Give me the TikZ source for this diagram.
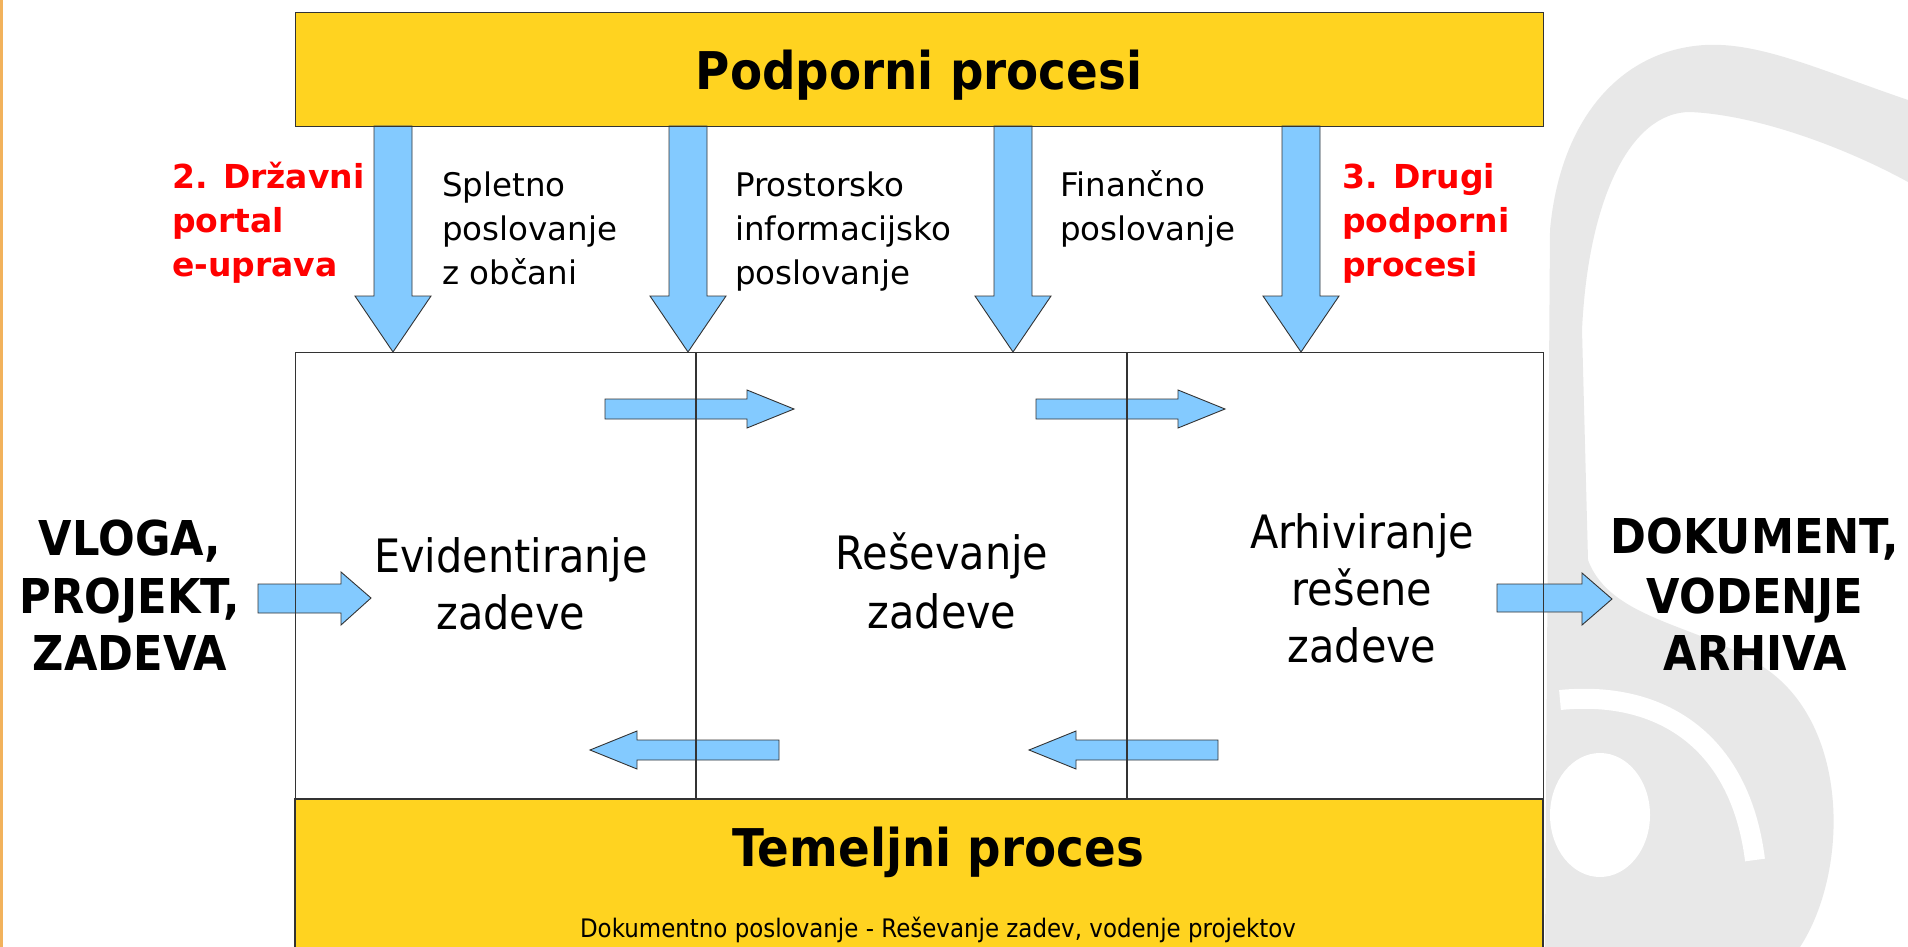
\documentclass[tikz,border=0pt]{standalone}
\usepackage{fontspec}
\setmainfont{DejaVu Sans}
\newfontfamily\nar{DejaVu Sans}[FakeStretch=0.9]
\definecolor{gold}{HTML}{FFD320}
\definecolor{sky}{HTML}{83CAFF}
\definecolor{edge}{HTML}{333333}
\definecolor{swirl}{HTML}{E8E8E8}
\definecolor{strip}{HTML}{F2B25C}
\tikzset{
  boxfill/.style={fill=#1, draw=none},
  boxline/.style={draw=edge, line width=1.3pt},
  arr/.style={fill=sky, draw=edge, line width=0.9pt, line join=miter},
  lbl/.style={anchor=base west, inner sep=0pt, font=\fontsize{32.5}{44}\selectfont},
  redlbl/.style={anchor=base west, inner sep=0pt, text=red, font=\bfseries\fontsize{33}{44}\selectfont},
  big/.style={anchor=base, inner sep=0pt, font=\nar\bfseries\fontsize{48}{58}\selectfont},
  mid/.style={anchor=base, inner sep=0pt, font=\nar\fontsize{46}{57}\selectfont},
  head/.style={anchor=base, inner sep=0pt, font=\nar\bfseries\fontsize{52}{60}\selectfont},
}
\newcommand\dnarrow[1]{%
  \draw[arr] (#1-19,126) -- (#1+19,126) -- (#1+19,296) -- (#1+38,296) -- (#1,352)
    -- (#1-38,296) -- (#1-19,296) -- cycle;}
\newcommand\rtarrow[2]{% tail x, center y
  \draw[arr] (#1,#2-10) -- (#1+142,#2-10) -- (#1+142,#2-19) -- (#1+189,#2)
    -- (#1+142,#2+19) -- (#1+142,#2+10) -- (#1,#2+10) -- cycle;}
\newcommand\lfarrow[2]{% tip x, center y
  \draw[arr] (#1,#2) -- (#1+47,#2-19) -- (#1+47,#2-10) -- (#1+189,#2-10)
    -- (#1+189,#2+10) -- (#1+47,#2+10) -- (#1+47,#2+19) -- cycle;}
\begin{document}
\begin{tikzpicture}[x=1pt,y=-1pt]
\useasboundingbox (0,0) rectangle (1908,947);
\fill[white] (0,0) rectangle (1908,947);
% left strip
\fill[strip] (0,0) rectangle (3,947);
% background swirl
\fill[swirl] (1908,100) .. controls (1820,70) and (1760,42) .. (1705,45)
  .. controls (1620,50) and (1560,120) .. (1550,230) -- (1545,947) -- (1800,947)
  .. controls (1850,870) and (1850,720) .. (1760,665)
  .. controls (1700,625) and (1610,620) .. (1588,560)
  -- (1582,330) .. controls (1588,200) and (1630,112) .. (1690,112)
  .. controls (1760,115) and (1850,150) .. (1908,182) -- cycle;
\fill[white] (1600,815) ellipse [x radius=50, y radius=62];
\draw[white, line width=20pt] (1560,700) .. controls (1660,690) and (1740,740) .. (1755,860);
% boxes
\fill[gold] (295,12) rectangle (1543,126);
\fill[white] (295,352) rectangle (1543,799);
\fill[gold] (295,799) rectangle (1543,960);
% arrows
\dnarrow{393}
\dnarrow{688}
\dnarrow{1013}
\dnarrow{1301}
\rtarrow{605}{409}
\rtarrow{1036}{409}
\lfarrow{590}{750}
\lfarrow{1029}{750}
\draw[arr] (258,584) -- (341,584) -- (341,572) -- (371,598) -- (341,625) -- (341,613) -- (258,613) -- cycle;
\draw[arr] (1497,584) -- (1582,584) -- (1582,573) -- (1612,599) -- (1582,625) -- (1582,612) -- (1497,612) -- cycle;
% outlines
\node[boxline, inner sep=0pt, minimum width=1248pt, minimum height=114pt, anchor=north west] (top) at (295,12) {};
\node[boxline, inner sep=0pt, minimum width=1248pt, minimum height=447pt, anchor=north west] (main) at (295,352) {};
\draw[boxline] (295,960) -- (295,799) -- (1543,799) -- (1543,960);
\draw[boxline] (696,352) -- (696,799);
\draw[boxline] (1127,352) -- (1127,799);
% titles
\node[head] (tp) at (919,90) {Podporni procesi};
\node[head] (tm) at (938,866) {Temeljni proces};
\node[anchor=base, inner sep=0pt, font=\nar\fontsize{25.5}{30}\selectfont] (sub) at (938,937) {Dokumentno poslovanje - Reševanje zadev, vodenje projektov};
% labels
\node[redlbl] (r1a) at (172,188) {2. Državni};
\node[redlbl] (r1b) at (172,232) {portal};
\node[redlbl] (r1c) at (172,276) {e-uprava};
\node[lbl] (s1) at (442,196) {Spletno};
\node[lbl] (s2) at (442,240) {poslovanje};
\node[lbl] (s3) at (442,284) {z občani};
\node[lbl] (p1) at (735,196) {Prostorsko};
\node[lbl] (p2) at (735,240) {informacijsko};
\node[lbl] (p3) at (735,284) {poslovanje};
\node[lbl] (f1) at (1060,196) {Finančno};
\node[lbl] (f2) at (1060,240) {poslovanje};
\node[redlbl] (r2a) at (1342,188) {3. Drugi};
\node[redlbl] (r2b) at (1342,232) {podporni};
\node[redlbl] (r2c) at (1342,276) {procesi};
% middle
\node[mid] (e1) at (511,572) {Evidentiranje};
\node[mid] (e2) at (511,629) {zadeve};
\node[mid] (m1) at (942,569) {Reševanje};
\node[mid] (m2) at (942,628) {zadeve};
\node[mid] (a1) at (1362,548) {Arhiviranje};
\node[mid] (a2) at (1362,605) {rešene};
\node[mid] (a3) at (1362,662) {zadeve};
% sides
\node[big] (v1) at (130,555) {VLOGA,};
\node[big] (v2) at (130,613) {PROJEKT,};
\node[big] (v3) at (130,670) {ZADEVA};
\node[big] (d1) at (1755,553) {DOKUMENT,};
\node[big] (d2) at (1755,613) {VODENJE};
\node[big] (d3) at (1755,670) {ARHIVA};
\end{tikzpicture}
\end{document}
